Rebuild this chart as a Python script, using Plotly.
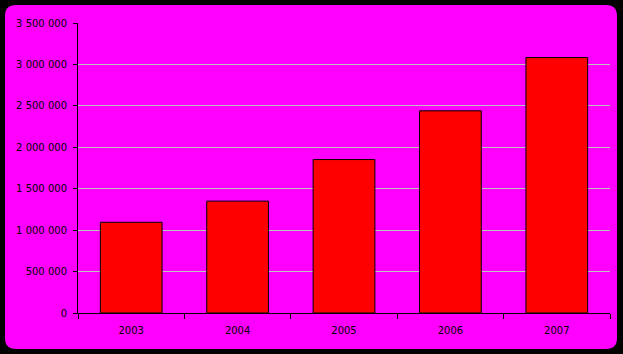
import plotly.graph_objects as go

years = ["2003", "2004", "2005", "2006", "2007"]
values = [1095000, 1350000, 1852000, 2440000, 3083000]
y_ticks = [0, 500000, 1000000, 1500000, 2000000, 2500000, 3000000, 3500000]

W, H = 623, 354
L, R, T, B = 78, 13, 23, 41
pw, ph = W - L - R, H - T - B


def px(x):
    return (x - L) / pw


def py(y):
    return (H - B - y) / ph


# rounded magenta panel in pixel coords -> paper coords
x0, x1, y0, y1, r = 5, 617, 5, 349, 11
path = (
    f"M {px(x0 + r)} {py(y0)} L {px(x1 - r)} {py(y0)} "
    f"Q {px(x1)} {py(y0)} {px(x1)} {py(y0 + r)} "
    f"L {px(x1)} {py(y1 - r)} Q {px(x1)} {py(y1)} {px(x1 - r)} {py(y1)} "
    f"L {px(x0 + r)} {py(y1)} Q {px(x0)} {py(y1)} {px(x0)} {py(y1 - r)} "
    f"L {px(x0)} {py(y0 + r)} Q {px(x0)} {py(y0)} {px(x0 + r)} {py(y0)} Z"
)

fig = go.Figure(
    go.Bar(
        x=years,
        y=values,
        marker=dict(color="#FF0000", line=dict(color="black", width=1)),
        width=0.58,
    )
)

fig.update_layout(
    width=W,
    height=H,
    margin=dict(l=L, r=R, t=T, b=B, pad=0),
    paper_bgcolor="black",
    plot_bgcolor="rgba(0,0,0,0)",
    separators=", ",
    showlegend=False,
    font=dict(family="DejaVu Sans, sans-serif", size=10, color="black"),
    shapes=[
        dict(
            type="path",
            path=path,
            xref="paper",
            yref="paper",
            fillcolor="#FF00FF",
            line=dict(width=0),
            layer="below",
        )
    ],
)

fig.update_xaxes(
    type="category",
    showline=True,
    linecolor="black",
    linewidth=1,
    ticks="outside",
    tickson="boundaries",
    ticklen=5,
    tickcolor="black",
    ticklabelstandoff=8,
    showgrid=False,
    zeroline=False,
)

fig.update_yaxes(
    range=[0, 3500000],
    tickvals=y_ticks,
    tickformat=",d",
    showline=True,
    linecolor="black",
    linewidth=1,
    ticks="outside",
    ticklen=4,
    tickcolor="black",
    ticklabelstandoff=4,
    showgrid=True,
    gridcolor="#C0C0C0",
    gridwidth=1,
    zeroline=False,
)

fig.write_html("out.html")
